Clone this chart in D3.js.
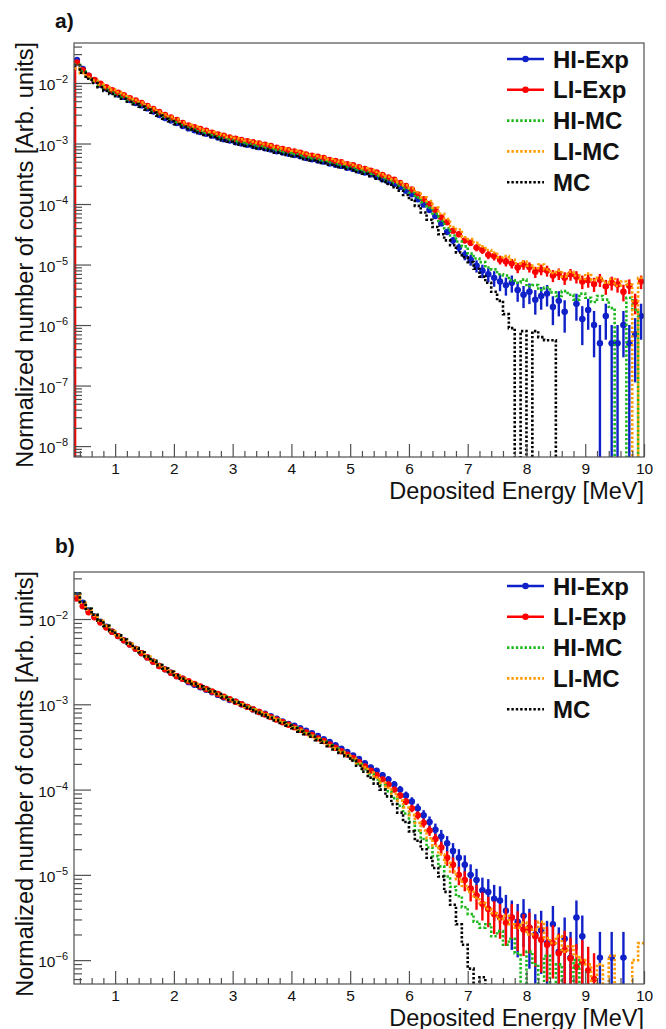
<!DOCTYPE html>
<html>
<head>
<meta charset="utf-8">
<script src="https://cdn.jsdelivr.net/npm/d3@7"></script>
<style>
  body { margin: 0; background: #fff; }
  svg { display: block; font-family: "Liberation Sans", Arial, Helvetica, sans-serif; }
</style>
</head>
<body>
<svg id="chart" width="666" height="1029"></svg>
<script>
// ---- Data (log10 of normalized counts per 0.1 MeV bin, 0.3 .. 10.0 MeV; null = empty bin) ----
var BIN_START = 0.3, BIN_WIDTH = 0.1, N_BINS = 97;

var A_HI_EXP = [
  -1.62,-1.77,-1.88,-1.96,-2.03,-2.09,-2.14,-2.19,-2.23,-2.28,
  -2.33,-2.37,-2.42,-2.47,-2.53,-2.58,-2.62,-2.66,-2.71,-2.75,
  -2.78,-2.81,-2.84,-2.87,-2.90,-2.93,-2.95,-2.98,-3.00,-3.02,
  -3.04,-3.06,-3.08,-3.10,-3.13,-3.15,-3.17,-3.19,-3.21,-3.24,
  -3.26,-3.28,-3.30,-3.33,-3.35,-3.37,-3.40,-3.42,-3.45,-3.48,
  -3.51,-3.55,-3.59,-3.63,-3.67,-3.72,-3.78,-3.84,-3.92,-4.01,
  -4.10,-4.20,-4.32,-4.46,-4.60,-4.72,-4.84,-4.92,-5.02,-5.10,
  -5.16,-5.22,-5.28,-5.34,-5.30,-5.42,-5.50,-5.45,-5.58,-5.52,
  -5.48,-5.70,-5.60,-5.78,null,-5.65,-5.90,-5.75,-6.00,-6.30,
  -5.85,-6.30,-6.30,-6.00,-6.30,-6.15,-5.85
];
var A_LI_EXP = [
  -1.66,-1.79,-1.88,-1.95,-2.01,-2.07,-2.12,-2.16,-2.20,-2.25,
  -2.29,-2.33,-2.38,-2.43,-2.48,-2.53,-2.57,-2.61,-2.66,-2.70,
  -2.73,-2.76,-2.79,-2.82,-2.85,-2.87,-2.90,-2.92,-2.94,-2.96,
  -2.98,-3.00,-3.02,-3.04,-3.07,-3.09,-3.11,-3.13,-3.15,-3.18,
  -3.20,-3.22,-3.24,-3.27,-3.29,-3.31,-3.34,-3.36,-3.39,-3.42,
  -3.45,-3.48,-3.52,-3.56,-3.60,-3.65,-3.70,-3.76,-3.84,-3.92,
  -4.00,-4.10,-4.22,-4.30,-4.44,-4.50,-4.60,-4.64,-4.72,-4.76,
  -4.84,-4.86,-4.92,-4.95,-4.98,-5.05,-5.00,-5.04,-5.12,-5.08,
  -5.10,-5.18,-5.15,-5.22,-5.16,-5.20,-5.28,-5.26,-5.32,-5.25,
  -5.36,-5.30,-5.33,-5.45,-5.35,-5.62,-5.28
];
var A_HI_MC = [
  -1.70,-1.81,-1.91,-1.98,-2.05,-2.11,-2.16,-2.20,-2.24,-2.29,
  -2.33,-2.37,-2.42,-2.47,-2.52,-2.57,-2.61,-2.65,-2.70,-2.74,
  -2.77,-2.80,-2.83,-2.86,-2.89,-2.91,-2.94,-2.96,-2.99,-3.01,
  -3.03,-3.05,-3.07,-3.09,-3.11,-3.14,-3.16,-3.18,-3.20,-3.23,
  -3.25,-3.27,-3.29,-3.31,-3.34,-3.36,-3.39,-3.41,-3.44,-3.47,
  -3.50,-3.53,-3.57,-3.61,-3.65,-3.70,-3.75,-3.81,-3.89,-3.97,
  -4.06,-4.16,-4.28,-4.40,-4.52,-4.62,-4.70,-4.82,-4.90,-4.96,
  -5.05,-5.08,-5.16,-5.18,-5.26,-5.30,-5.25,-5.36,-5.34,-5.42,
  -5.38,-5.46,-5.52,-5.44,-5.50,-5.58,-5.48,-5.55,-5.62,-5.52,
  -5.58,-5.72,null,null,-5.55,-5.75,null
];
var A_LI_MC = [
  -1.76,-1.84,-1.90,-1.96,-2.02,-2.07,-2.11,-2.15,-2.19,-2.24,
  -2.28,-2.32,-2.37,-2.42,-2.47,-2.52,-2.56,-2.60,-2.65,-2.69,
  -2.72,-2.75,-2.78,-2.81,-2.84,-2.86,-2.89,-2.91,-2.93,-2.95,
  -2.97,-2.99,-3.01,-3.03,-3.06,-3.08,-3.10,-3.12,-3.14,-3.17,
  -3.19,-3.21,-3.23,-3.26,-3.28,-3.30,-3.33,-3.35,-3.38,-3.41,
  -3.44,-3.47,-3.51,-3.55,-3.59,-3.64,-3.69,-3.74,-3.81,-3.89,
  -3.95,-4.06,-4.16,-4.25,-4.38,-4.42,-4.55,-4.58,-4.64,-4.70,
  -4.76,-4.80,-4.88,-4.86,-4.92,-4.98,-4.95,-5.02,-5.06,-5.00,
  -5.08,-5.14,-5.10,-5.20,-5.12,-5.18,-5.24,-5.15,-5.26,-5.22,
  -5.30,-5.24,-5.35,-5.28,-5.33,null,-5.22
];
var A_MC = [
  -1.71,-1.83,-1.93,-2.00,-2.07,-2.13,-2.18,-2.22,-2.26,-2.31,
  -2.35,-2.39,-2.44,-2.49,-2.54,-2.59,-2.63,-2.68,-2.72,-2.76,
  -2.79,-2.83,-2.86,-2.89,-2.92,-2.95,-2.97,-3.00,-3.02,-3.04,
  -3.06,-3.08,-3.10,-3.12,-3.15,-3.17,-3.19,-3.21,-3.23,-3.26,
  -3.28,-3.30,-3.32,-3.35,-3.37,-3.39,-3.42,-3.44,-3.47,-3.50,
  -3.54,-3.58,-3.62,-3.67,-3.72,-3.78,-3.85,-3.93,-4.03,-4.14,
  -4.26,-4.38,-4.50,-4.60,-4.68,-4.80,-4.88,-4.96,-5.07,-5.20,
  -5.30,-5.45,-5.60,-5.82,-6.05,null,-6.10,null,-6.10,-6.20,
  -6.25,-6.25,null,null,null,null,null,null,null,null,
  null,null,null,null,null,null,null
];

var B_HI_EXP = [
  -1.72,-1.81,-1.90,-1.97,-2.03,-2.09,-2.15,-2.20,-2.25,-2.30,
  -2.35,-2.40,-2.45,-2.50,-2.55,-2.59,-2.63,-2.67,-2.70,-2.74,
  -2.77,-2.80,-2.83,-2.86,-2.89,-2.92,-2.95,-2.97,-3.00,-3.03,
  -3.06,-3.09,-3.11,-3.14,-3.17,-3.20,-3.23,-3.25,-3.28,-3.31,
  -3.34,-3.37,-3.41,-3.44,-3.48,-3.52,-3.56,-3.60,-3.64,-3.69,
  -3.74,-3.78,-3.83,-3.88,-3.94,-4.00,-4.07,-4.14,-4.22,-4.30,
  -4.38,-4.47,-4.55,-4.63,-4.72,-4.80,-4.88,-5.00,-5.06,-5.18,
  -5.20,-5.28,-5.30,-5.42,-5.50,-5.55,-5.48,-5.62,-5.70,-5.65,
  -5.80,-5.58,-5.90,-5.75,-5.97,-5.50,-5.72,null,null,-5.97,
  null,-5.97,null,-5.97,null,null,null
];
var B_LI_EXP = [
  -1.76,-1.85,-1.92,-1.98,-2.04,-2.10,-2.15,-2.20,-2.25,-2.30,
  -2.35,-2.40,-2.45,-2.50,-2.55,-2.59,-2.63,-2.67,-2.70,-2.73,
  -2.76,-2.79,-2.82,-2.85,-2.88,-2.91,-2.94,-2.97,-3.00,-3.03,
  -3.06,-3.09,-3.12,-3.15,-3.18,-3.21,-3.24,-3.27,-3.30,-3.33,
  -3.36,-3.40,-3.43,-3.47,-3.51,-3.55,-3.59,-3.63,-3.68,-3.73,
  -3.78,-3.83,-3.88,-3.94,-4.00,-4.07,-4.14,-4.22,-4.30,-4.39,
  -4.48,-4.58,-4.68,-4.80,-4.88,-5.00,-5.06,-5.16,-5.24,-5.34,
  -5.40,-5.46,-5.50,-5.56,-5.50,-5.60,-5.64,-5.62,-5.72,-5.76,
  -5.82,-5.80,-5.92,-5.88,-5.98,-6.08,-6.02,-6.12,-6.22,null,
  null,null,null,null,null,null,null
];
var B_HI_MC = [
  -1.70,-1.80,-1.88,-1.95,-2.02,-2.08,-2.14,-2.19,-2.24,-2.29,
  -2.34,-2.39,-2.44,-2.49,-2.54,-2.58,-2.62,-2.66,-2.70,-2.73,
  -2.76,-2.79,-2.82,-2.85,-2.88,-2.91,-2.94,-2.97,-3.00,-3.03,
  -3.06,-3.09,-3.12,-3.15,-3.18,-3.21,-3.24,-3.27,-3.31,-3.34,
  -3.37,-3.41,-3.44,-3.48,-3.52,-3.56,-3.60,-3.65,-3.70,-3.76,
  -3.82,-3.88,-3.95,-4.02,-4.10,-4.19,-4.28,-4.38,-4.48,-4.58,
  -4.68,-4.78,-4.90,-5.02,-5.14,-5.25,-5.38,-5.46,-5.55,-5.62,
  -5.58,-5.72,-5.66,-5.82,-5.75,-5.92,null,-5.90,-6.05,null,
  -5.95,null,-6.05,null,null,-6.00,null,null,null,null,
  null,null,null,null,null,null,null
];
var B_LI_MC = [
  -1.72,-1.81,-1.89,-1.96,-2.02,-2.08,-2.14,-2.19,-2.24,-2.29,
  -2.34,-2.39,-2.44,-2.49,-2.54,-2.58,-2.62,-2.66,-2.70,-2.73,
  -2.76,-2.79,-2.82,-2.85,-2.88,-2.91,-2.94,-2.97,-3.00,-3.03,
  -3.06,-3.09,-3.12,-3.15,-3.18,-3.21,-3.24,-3.27,-3.30,-3.34,
  -3.37,-3.40,-3.44,-3.48,-3.52,-3.56,-3.60,-3.64,-3.69,-3.74,
  -3.80,-3.86,-3.92,-3.98,-4.05,-4.13,-4.21,-4.30,-4.39,-4.48,
  -4.57,-4.66,-4.76,-4.86,-4.96,-5.05,-5.13,-5.20,-5.27,-5.33,
  -5.40,-5.45,-5.52,-5.48,-5.58,-5.62,-5.56,-5.70,-5.64,-5.55,
  -5.74,-5.80,-5.72,-5.90,-5.84,-5.95,-6.00,-6.05,null,-6.05,
  null,-5.95,null,null,null,-6.00,-5.80
];
var B_MC = [
  -1.70,-1.80,-1.88,-1.95,-2.02,-2.08,-2.14,-2.19,-2.24,-2.29,
  -2.34,-2.39,-2.44,-2.49,-2.54,-2.58,-2.62,-2.66,-2.70,-2.73,
  -2.76,-2.79,-2.82,-2.85,-2.88,-2.92,-2.95,-2.98,-3.01,-3.04,
  -3.07,-3.10,-3.13,-3.16,-3.19,-3.22,-3.25,-3.28,-3.32,-3.35,
  -3.38,-3.42,-3.45,-3.49,-3.53,-3.57,-3.61,-3.66,-3.72,-3.79,
  -3.86,-3.93,-4.00,-4.08,-4.17,-4.27,-4.38,-4.49,-4.60,-4.70,
  -4.80,-4.92,-5.02,-5.20,-5.35,-5.58,-5.82,-6.10,null,-6.20,
  null,null,null,null,null,null,null,null,null,null,
  null,null,null,null,null,null,null,null,null,null,
  null,null,null,null,null,null,null
];

// total counts behind each experimental spectrum (sets the Poisson error bars)
var A_EXP_COUNTS = [2.0e6, 3.0e6];
var B_EXP_COUNTS = [9.3e5, 1.66e6];

// ---- Axis ranges and ticks ----
var X_DOMAIN = [0.3, 10];
var X_MAJOR_TICKS = [1, 2, 3, 4, 5, 6, 7, 8, 9, 10];
var A_Y_DOMAIN = [6.6e-9, 4.58e-2];
var B_Y_DOMAIN = [5.25e-7, 3.56e-2];
var A_Y_EXPONENTS = [-8, -7, -6, -5, -4, -3, -2];
var B_Y_EXPONENTS = [-6, -5, -4, -3, -2];

var SERIES_NAMES = ['HI-Exp', 'LI-Exp', 'HI-MC', 'LI-MC', 'MC'];
var SERIES_KINDS = ['exp', 'exp', 'mc', 'mc', 'mc'];
var SERIES_COLORS = ['#1020c8', '#ff0000', '#1cb81c', '#ff9a00', '#000000'];

// ---- Layout ----
var FRAME_LEFT = 74, FRAME_RIGHT = 644;
var AXIS_COLOR = '#505050';

var PANELS = [
  { id: 'a', label: 'a)', top: 43, bottom: 457, yDomain: A_Y_DOMAIN, exps: A_Y_EXPONENTS,
    series: [A_HI_EXP, A_LI_EXP, A_HI_MC, A_LI_MC, A_MC], counts: A_EXP_COUNTS,
    legendY: 59, labelY: 28, leftDrop: 1 },
  { id: 'b', label: 'b)', top: 572, bottom: 984, yDomain: B_Y_DOMAIN, exps: B_Y_EXPONENTS,
    series: [B_HI_EXP, B_LI_EXP, B_HI_MC, B_LI_MC, B_MC], counts: B_EXP_COUNTS,
    legendY: 586, labelY: 553, leftDrop: -1 }
];

var svg = d3.select('#chart');
var defs = svg.append('defs');
var edges = d3.range(N_BINS + 1).map(function (i) { return BIN_START + i * BIN_WIDTH; });

function styleAxis(sel) {
  sel.select('.domain').remove();
  sel.selectAll('.tick line').attr('stroke', AXIS_COLOR).attr('stroke-width', 1.2);
  sel.selectAll('.tick text').attr('fill', '#111').attr('font-size', 15.5)
    .attr('font-family', '"Liberation Sans", Arial, sans-serif');
}

function drawPanel(p) {
  var x = d3.scaleLinear().domain(X_DOMAIN).range([FRAME_LEFT, FRAME_RIGHT]);
  var y = d3.scaleLog().domain(p.yDomain).range([p.bottom, p.top]);
  var g = svg.append('g').attr('class', 'panel-' + p.id);

  // Clip region for the data
  defs.append('clipPath').attr('id', 'clip-' + p.id)
    .append('rect')
    .attr('x', FRAME_LEFT).attr('y', p.top)
    .attr('width', FRAME_RIGHT - FRAME_LEFT).attr('height', p.bottom - p.top);

  var plot = g.append('g').attr('clip-path', 'url(#clip-' + p.id + ')');

  p.series.forEach(function (vals, si) {
    var color = SERIES_COLORS[si];
    var sg = plot.append('g').attr('class', 'series-' + si);

    if (SERIES_KINDS[si] === 'mc') {
      // dotted step histogram, empty bins drop to the frame bottom
      var path = d3.path();
      vals.forEach(function (lv, i) {
        var yy = lv === null ? p.bottom + 4 : y(Math.pow(10, lv));
        if (i === 0) path.moveTo(x(edges[0]), yy);
        else path.lineTo(x(edges[i]), yy);
        path.lineTo(x(edges[i + 1]), yy);
      });
      sg.append('path')
        .attr('d', path.toString())
        .attr('fill', 'none')
        .attr('stroke', color)
        .attr('stroke-width', 2.6)
        .attr('stroke-dasharray', '2.4,2');
      return;
    }

    // experimental: markers with error bars
    var n = p.counts[si];
    var pts = [];
    vals.forEach(function (lv, i) {
      if (lv === null) return;
      var v = Math.pow(10, lv);
      pts.push({ x0: edges[i], x1: edges[i + 1], xc: (edges[i] + edges[i + 1]) / 2, v: v, err: Math.sqrt(v / n) });
    });

    if (p.leftDrop === si) {
      sg.append('line')
        .attr('x1', x(X_DOMAIN[0]) + 1).attr('x2', x(X_DOMAIN[0]) + 1)
        .attr('y1', y(pts[0].v)).attr('y2', p.bottom)
        .attr('stroke', color).attr('stroke-width', 2.6);
    }

    sg.selectAll('line.ex').data(pts).enter().append('line')
      .attr('class', 'ex')
      .attr('x1', function (d) { return x(d.x0); })
      .attr('x2', function (d) { return x(d.x1); })
      .attr('y1', function (d) { return y(d.v); })
      .attr('y2', function (d) { return y(d.v); })
      .attr('stroke', color).attr('stroke-width', 2.4);

    sg.selectAll('line.ey').data(pts).enter().append('line')
      .attr('class', 'ey')
      .attr('x1', function (d) { return x(d.xc); })
      .attr('x2', function (d) { return x(d.xc); })
      .attr('y1', function (d) { return y(d.v + d.err); })
      .attr('y2', function (d) {
        var lo = d.v - d.err;
        return lo > p.yDomain[0] ? y(lo) : p.bottom + 2;
      })
      .attr('stroke', color).attr('stroke-width', 2.4);

    sg.selectAll('circle').data(pts).enter().append('circle')
      .attr('cx', function (d) { return x(d.xc); })
      .attr('cy', function (d) { return y(d.v); })
      .attr('r', 3.2)
      .attr('fill', color);
  });

  // Frame
  g.append('rect')
    .attr('x', FRAME_LEFT).attr('y', p.top)
    .attr('width', FRAME_RIGHT - FRAME_LEFT).attr('height', p.bottom - p.top)
    .attr('fill', 'none').attr('stroke', AXIS_COLOR).attr('stroke-width', 1.2);

  // X axis: minor + major ticks pointing inward
  var xMinor = d3.range(0.4, 10, 0.2).filter(function (v) { return Math.abs(v - Math.round(v)) > 1e-6; });
  g.append('g').attr('transform', 'translate(0,' + p.bottom + ')')
    .call(d3.axisBottom(x).tickValues(xMinor).tickSize(-6).tickFormat(''))
    .call(styleAxis);
  g.append('g').attr('transform', 'translate(0,' + p.bottom + ')')
    .call(d3.axisBottom(x).tickValues(X_MAJOR_TICKS).tickSize(-13).tickPadding(6).tickFormat(d3.format('d')))
    .call(styleAxis);

  // Y axis: log decades + minor ticks
  var yMinor = [];
  var lo = Math.floor(Math.log10(p.yDomain[0])), hi = Math.ceil(Math.log10(p.yDomain[1]));
  for (var e = lo; e < hi; e++) {
    for (var k = 2; k <= 9; k++) {
      var v = k * Math.pow(10, e);
      if (v >= p.yDomain[0] && v <= p.yDomain[1]) yMinor.push(v);
    }
  }
  var yMajor = p.exps.map(function (e) { return Math.pow(10, e); });
  g.append('g').attr('transform', 'translate(' + FRAME_LEFT + ',0)')
    .call(d3.axisLeft(y).tickValues(yMinor).tickSize(-8).tickFormat(''))
    .call(styleAxis);
  g.append('g').attr('transform', 'translate(' + FRAME_LEFT + ',0)')
    .call(d3.axisLeft(y).tickValues(yMajor).tickSize(-17).tickFormat(''))
    .call(styleAxis);

  // Y tick labels 10^n
  p.exps.forEach(function (e) {
    var t = g.append('text')
      .attr('x', FRAME_LEFT - 6)
      .attr('y', y(Math.pow(10, e)) + 7)
      .attr('text-anchor', 'end')
      .attr('font-size', 15.5)
      .attr('fill', '#111');
    t.append('tspan').text('10');
    t.append('tspan').attr('font-size', 11).attr('dy', -7).text('\u2212' + Math.abs(e));
  });

  // Axis titles
  g.append('text')
    .attr('x', FRAME_RIGHT).attr('y', p.bottom + 41.5)
    .attr('text-anchor', 'end').attr('font-size', 23.5).attr('fill', '#111')
    .text('Deposited Energy [MeV]');
  g.append('text')
    .attr('transform', 'translate(33,' + (p.top - 1) + ') rotate(-90)')
    .attr('text-anchor', 'end').attr('font-size', 23.5).attr('fill', '#111')
    .text('Normalized number of counts [Arb. units]');

  // Panel label
  g.append('text')
    .attr('x', 55).attr('y', p.labelY)
    .attr('font-size', 21).attr('font-weight', 'bold').attr('fill', '#111')
    .text(p.label);

  // Legend
  var leg = g.append('g').attr('class', 'legend');
  SERIES_NAMES.forEach(function (name, si) {
    var ly = p.legendY + si * 30.8;
    var color = SERIES_COLORS[si];
    var ln = leg.append('line')
      .attr('x1', 507).attr('x2', 544).attr('y1', ly).attr('y2', ly)
      .attr('stroke', color);
    if (SERIES_KINDS[si] === 'exp') {
      ln.attr('stroke-width', 2.4);
      leg.append('circle').attr('cx', 525.5).attr('cy', ly).attr('r', 3.2).attr('fill', color);
    } else {
      ln.attr('stroke-width', 2.6).attr('stroke-dasharray', '2.4,2');
    }
    leg.append('text')
      .attr('x', 553).attr('y', ly + 8.5)
      .attr('font-size', 24).attr('font-weight', 'bold').attr('fill', '#111')
      .text(name);
  });
}

PANELS.forEach(drawPanel);
</script>
</body>
</html>
